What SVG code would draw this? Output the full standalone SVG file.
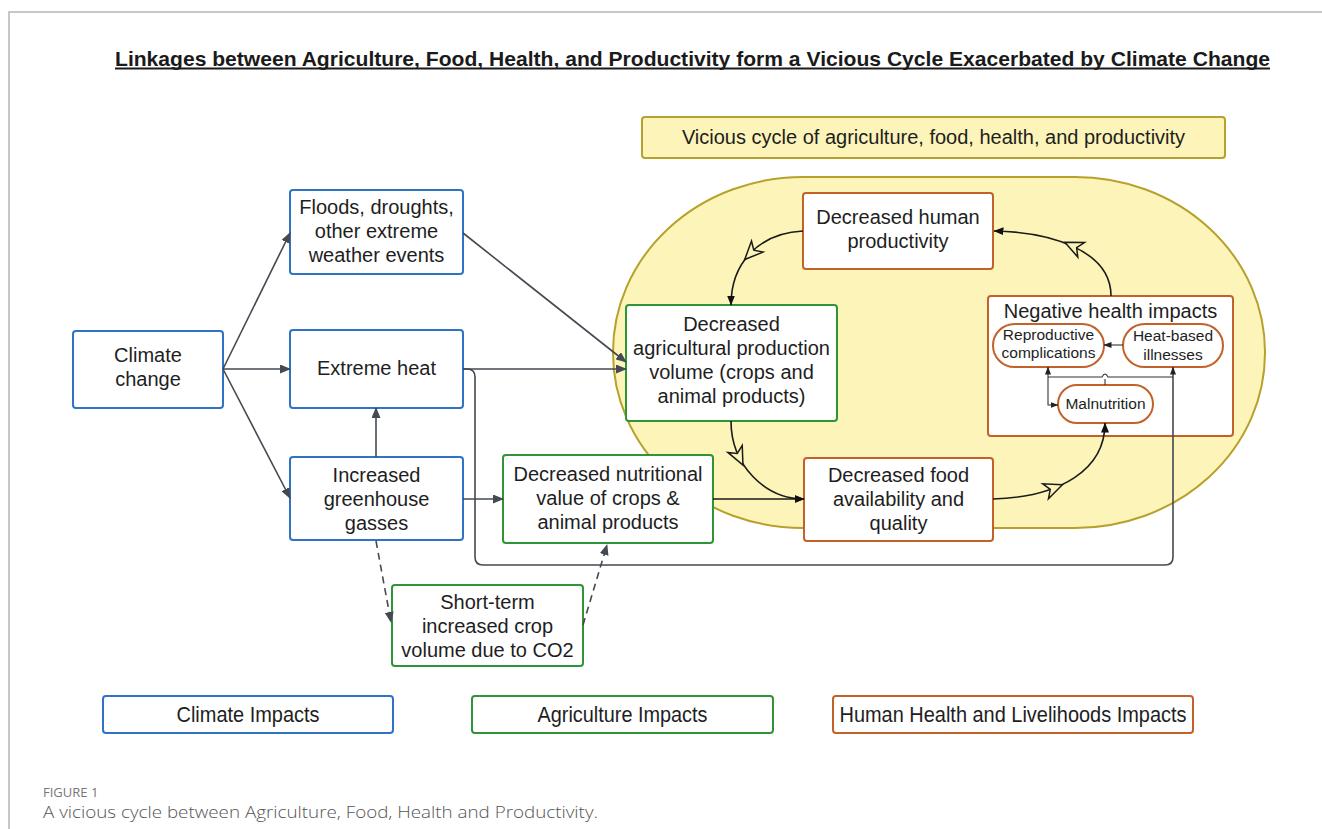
<svg xmlns="http://www.w3.org/2000/svg" width="1322" height="829" viewBox="0 0 1322 829">
<style>
.t{font-family:"Liberation Sans",Arial,sans-serif;font-size:20px;fill:#1e1e1e;text-anchor:middle}
.l{font-family:"Liberation Sans",Arial,sans-serif;font-size:21.5px;fill:#1e1e1e;text-anchor:middle}
.s{font-family:"Liberation Sans",Arial,sans-serif;font-size:15.5px;fill:#1e1e1e;text-anchor:middle}
.b{fill:#fff;stroke:#2e73c4;stroke-width:2}
.g{fill:#fff;stroke:#2f9436;stroke-width:2}
.o{fill:#fff;stroke:#c2622a;stroke-width:2}
.c{fill:none;stroke:#444a52;stroke-width:1.6}
.k{fill:none;stroke:#1a1a1a;stroke-width:1.6}
.d{fill:none;stroke:#444a52;stroke-width:1.6;stroke-dasharray:7,5}
.h{fill:none;stroke:#333;stroke-width:1.1}
.tri{fill:#fcf4b8;stroke:#1a1a1a;stroke-width:1.5;stroke-linejoin:miter}
</style>
<defs>
<marker id="a" markerUnits="userSpaceOnUse" markerWidth="11" markerHeight="9" refX="10" refY="4.5" orient="auto"><path d="M0,0 L11,4.5 L0,9 z" fill="#444a52"/></marker>
<marker id="ak" markerUnits="userSpaceOnUse" markerWidth="10" markerHeight="8" refX="9.5" refY="4" orient="auto"><path d="M0,0 L10,4 L0,8 z" fill="#111"/></marker>
<marker id="as" markerUnits="userSpaceOnUse" markerWidth="8" markerHeight="6" refX="7.5" refY="3" orient="auto"><path d="M0,0 L8,3 L0,6 z" fill="#222"/></marker>
<path id="ot" d="M9,0 L-9,-8 L-4,0 L-9,8 z"/>
</defs>
<rect x="0" y="0" width="1322" height="829" fill="#fff"/>
<path d="M9,829 V12 H1322" fill="none" stroke="#b5b5b5" stroke-width="1.5"/>
<g id="title">
<text x="692.5" y="65.5" font-family="Liberation Sans,Arial,sans-serif" font-size="21" font-weight="bold" fill="#1a1a1a" text-anchor="middle" textLength="1155" lengthAdjust="spacingAndGlyphs">Linkages between Agriculture, Food, Health, and Productivity form a Vicious Cycle Exacerbated by Climate Change</text>
<rect x="115" y="67.5" width="1155" height="2" fill="#1a1a1a"/>
</g>
<g id="cycle-area"><rect x="613" y="177" width="652" height="351" rx="190" ry="175" fill="#fcf4b8" stroke="#b7a12c" stroke-width="2"/></g>
<g id="cycle-label"><rect x="642" y="117" width="583" height="41" rx="3" fill="#fcf4b8" stroke="#b7a12c" stroke-width="2"/><text class="t" x="933.5" y="144">Vicious cycle of agriculture, food, health, and productivity</text></g>
<g id="climate-change"><rect class="b" x="73" y="331" width="150" height="77" rx="3"/><text class="t" x="148" y="362">Climate</text><text class="t" x="148" y="386">change</text></g>
<g id="floods"><rect class="b" x="290" y="190" width="173" height="84" rx="3"/><text class="t" x="376.5" y="214">Floods, droughts,</text><text class="t" x="376.5" y="238">other extreme</text><text class="t" x="376.5" y="262">weather events</text></g>
<g id="extreme-heat"><rect class="b" x="290" y="330" width="173" height="78" rx="3"/><text class="t" x="376.5" y="375">Extreme heat</text></g>
<g id="greenhouse"><rect class="b" x="290" y="457" width="173" height="83" rx="3"/><text class="t" x="376.5" y="482">Increased</text><text class="t" x="376.5" y="506">greenhouse</text><text class="t" x="376.5" y="530">gasses</text></g>
<g id="nutritional"><rect class="g" x="503" y="455" width="210" height="88" rx="3"/><text class="t" x="608" y="481">Decreased nutritional</text><text class="t" x="608" y="505">value of crops &amp;</text><text class="t" x="608" y="529">animal products</text></g>
<g id="short-term"><rect class="g" x="392" y="585" width="191" height="81" rx="3"/><text class="t" x="487.5" y="609">Short-term</text><text class="t" x="487.5" y="633">increased crop</text><text class="t" x="487.5" y="657">volume due to CO2</text></g>
<g id="agri-production"><rect class="g" x="626" y="305" width="211" height="116" rx="3"/><text class="t" x="731.5" y="331">Decreased</text><text class="t" x="731.5" y="355">agricultural production</text><text class="t" x="731.5" y="379">volume (crops and</text><text class="t" x="731.5" y="403">animal products)</text></g>
<g id="human-productivity"><rect class="o" x="803" y="193" width="190" height="76" rx="3"/><text class="t" x="898" y="224">Decreased human</text><text class="t" x="898" y="248">productivity</text></g>
<g id="food"><rect class="o" x="804" y="458" width="189" height="83" rx="3"/><text class="t" x="898.5" y="482">Decreased food</text><text class="t" x="898.5" y="506">availability and</text><text class="t" x="898.5" y="530">quality</text></g>
<g id="health">
<rect class="o" x="988" y="296" width="245" height="140" rx="3"/>
<text class="t" x="1110.5" y="318">Negative health impacts</text>
</g>
<g id="reproductive"><rect class="o" x="993" y="324" width="111" height="43" rx="21.5"/><text class="s" x="1048.5" y="340">Reproductive</text><text class="s" x="1048.5" y="358">complications</text></g>
<g id="heat-illness"><rect class="o" x="1123" y="324" width="100" height="43" rx="21.5"/><text class="s" x="1173" y="341">Heat-based</text><text class="s" x="1173" y="360">illnesses</text></g>
<g id="malnutrition"><rect class="o" x="1058" y="385" width="95" height="38" rx="19"/><text class="s" x="1105.5" y="409">Malnutrition</text></g>
<g id="connectors">
<path class="c" d="M223,369 L290,233" marker-end="url(#a)"/>
<path class="c" d="M223,369 L290,369" marker-end="url(#a)"/>
<path class="c" d="M223,369 L290,498" marker-end="url(#a)"/>
<path class="c" d="M376,457 L376,408" marker-end="url(#a)"/>
<path class="c" d="M463,233 L626,362" marker-end="url(#a)"/>
<path class="c" d="M463,369 L626,369" marker-end="url(#a)"/>
<path class="c" d="M463,369 H467 Q475,369 475,377 V557 Q475,565 483,565 H1165 Q1173,565 1173,557 V367" marker-end="url(#as)"/>
<path class="c" d="M463,499 L503,499" marker-end="url(#a)"/>
<path class="k" d="M713,499 L804,499" marker-end="url(#ak)"/>
<path class="d" d="M376,541 L391,622" marker-end="url(#a)"/>
<path class="d" d="M583,625 L607,545" marker-end="url(#a)"/>
<path class="k" d="M731,421 C731,465 765,499 804,499" marker-end="url(#ak)"/>
<path class="k" d="M993,499 C1060,497 1105,470 1105,423" marker-end="url(#ak)"/>
<path class="k" d="M1111,296 C1111,250 1050,232 994,231" marker-end="url(#ak)"/>
<path class="k" d="M803,231 C760,233 731,262 731,305" marker-end="url(#ak)"/>
<use href="#ot" class="tri" transform="translate(751,253) rotate(134)"/>
<use href="#ot" class="tri" transform="translate(739,457) rotate(64)"/>
<use href="#ot" class="tri" transform="translate(1054,488) rotate(-21)"/>
<use href="#ot" class="tri" transform="translate(1073,246) rotate(205)"/>
<path class="h" d="M1048,377 H1102 Q1105,371 1108,377 H1173"/>
<path class="h" d="M1105,385 V379"/>
<path class="h" d="M1048,377 V367" marker-end="url(#as)"/>
<path class="h" d="M1048,377 V405 H1058" marker-end="url(#as)"/>
<path class="h" d="M1123,345 H1104" marker-end="url(#as)"/>
</g>
<g id="legend">
<g id="legend-climate"><rect class="b" x="103" y="696" width="290" height="37" rx="3"/><text class="l" x="248" y="722" textLength="143" lengthAdjust="spacingAndGlyphs">Climate Impacts</text></g>
<g id="legend-agri"><rect class="g" x="472" y="696" width="301" height="37" rx="3"/><text class="l" x="622.5" y="722" textLength="170" lengthAdjust="spacingAndGlyphs">Agriculture Impacts</text></g>
<g id="legend-human"><rect class="o" x="833" y="696" width="360" height="37" rx="3"/><text class="l" x="1013" y="722" textLength="347" lengthAdjust="spacingAndGlyphs">Human Health and Livelihoods Impacts</text></g>
</g>
<g id="caption">
<text x="43" y="797" font-family="'Open Sans',sans-serif" font-size="13" fill="#777">FIGURE 1</text>
<text x="43" y="818" font-family="'Open Sans',sans-serif" font-size="16" font-weight="300" fill="#555" textLength="555" lengthAdjust="spacingAndGlyphs">A vicious cycle between Agriculture, Food, Health and Productivity.</text>
</g>
</svg>
